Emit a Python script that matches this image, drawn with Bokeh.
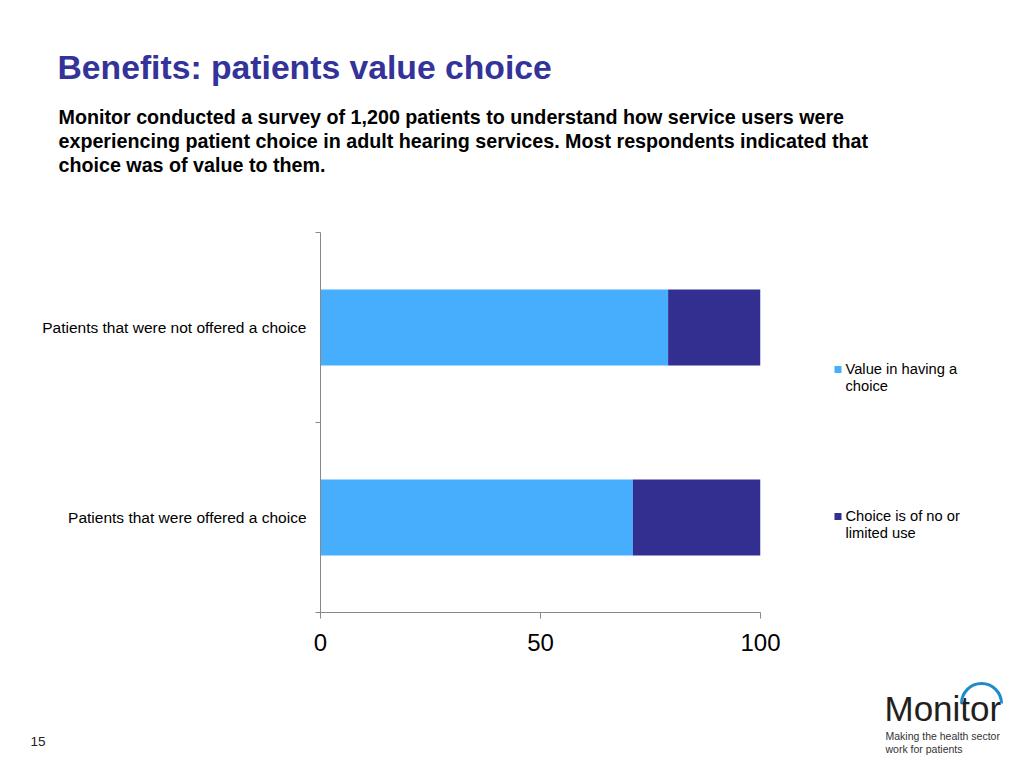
import math
from bokeh.plotting import figure
from bokeh.models import Range1d, FixedTicker
from bokeh.layouts import column, row
from bokeh.core.properties import value
from bokeh.embed import file_html
from bokeh.resources import INLINE

# ---- data ----
categories = ["Patients that were offered a choice", "Patients that were not offered a choice"]
value_choice = [71, 79]
no_use = [29, 21]
series_names = ["Value in having a\nchoice", "Choice is of no or\nlimited use"]
colors = ["#46AEFD", "#332F91"]
x_ticks = [0, 50, 100]

title_text = "Benefits: patients value choice"
subtitle_lines = [
    "Monitor conducted a survey of 1,200 patients to understand how service users were",
    "experiencing patient choice in adult hearing services. Most respondents indicated that",
    "choice was of value to them.",
]
page_number = "15"
logo_name = "Monitor"
logo_tagline = ["Making the health sector", "work for patients"]

FONT = "Liberation Sans"
PAGE_W = 1016


def canvas_fig(w, h, x0, y0, border_top=0, border_bottom=0):
    """A figure whose frame maps page pixels (y downward, negated)."""
    frame_h = h - border_top - border_bottom
    f = figure(width=w, height=h, output_backend="svg", toolbar_location=None,
               x_range=Range1d(x0, x0 + w),
               y_range=Range1d(-(y0 + border_top + frame_h), -(y0 + border_top)),
               x_axis_location=None, y_axis_location=None, min_border=0,
               min_border_top=border_top, min_border_bottom=border_bottom)
    f.outline_line_color = None
    f.background_fill_color = None
    f.border_fill_color = None
    f.xgrid.visible = False
    f.ygrid.visible = False
    return f


def txt(f, s, x, y, size, color="#000000", style="normal", align="left",
        baseline="middle", font=FONT):
    f.text(x=[x], y=[-y], text=[s], text_font=value(font), text_font_size=value(size),
           text_color=color, text_font_style=style, text_align=align,
           text_baseline=baseline)


# ---- top: title + subtitle ----
TOP_H = 200
top = canvas_fig(PAGE_W, TOP_H, 0, 0)
txt(top, title_text, 57, 66.5, "33.7px", color="#333399", style="bold")
for i, line in enumerate(subtitle_lines):
    txt(top, line, 58, 116.5 + 24 * i, "19.7px", style="bold")

# ---- chart ----
CH_Y0, CH_H, CH_W = 200, 470, 800
ypos = [i + 0.5 for i in range(len(categories))]
frame_top, frame_bottom = 232, 612
b_top = frame_top - CH_Y0
b_bot = CH_Y0 + CH_H - frame_bottom
p = figure(width=CH_W, height=CH_H, output_backend="svg", toolbar_location=None,
           x_range=Range1d(0, 100), y_range=Range1d(0, len(categories)),
           min_border_left=320, min_border_right=CH_W - 760,
           min_border_top=b_top, min_border_bottom=b_bot)
p.outline_line_color = None
p.xgrid.visible = False
p.ygrid.visible = False

right1 = list(value_choice)
right2 = [a + b for a, b in zip(value_choice, no_use)]
p.hbar(y=ypos, left=0, right=right1, height=0.4, fill_color=colors[0], line_color=None)
p.hbar(y=ypos, left=right1, right=right2, height=0.4, fill_color=colors[1], line_color=None)

xa = p.xaxis[0]
xa.ticker = FixedTicker(ticks=x_ticks, minor_ticks=[])
xa.axis_line_color = "#888888"
xa.major_tick_line_color = "#888888"
xa.major_tick_out = 6
xa.major_tick_in = 0
xa.minor_tick_line_color = None
xa.major_label_text_font = FONT
xa.major_label_text_font_size = "24px"
xa.major_label_text_color = "#000000"
xa.major_label_standoff = 15

ya = p.yaxis[0]
ya.ticker = FixedTicker(ticks=ypos, minor_ticks=list(range(len(categories) + 1)))
ya.major_label_overrides = {y: c for y, c in zip(ypos, categories)}
ya.axis_line_color = "#888888"
ya.major_tick_line_color = None
ya.minor_tick_line_color = "#888888"
ya.minor_tick_out = 5
ya.minor_tick_in = 0
ya.major_label_text_font = FONT
ya.major_label_text_font_size = "15.5px"
ya.major_label_text_color = "#000000"
ya.major_label_standoff = 8

# ---- legend panel (frame aligned with the chart frame) ----
leg = canvas_fig(PAGE_W - CH_W, CH_H, CH_W, CH_Y0, border_top=b_top, border_bottom=b_bot)
leg_y = [369, 516]
for name, c, ly in zip(series_names, colors, leg_y):
    leg.rect(x=[837.5], y=[-ly], width=7, height=7, fill_color=c, line_color=None)
    for j, part in enumerate(name.split("\n")):
        txt(leg, part, 845, ly - 0.5 + 17 * j, "14.7px")

# ---- bottom: page number + logo ----
BOT_Y0 = CH_Y0 + CH_H
bot = canvas_fig(PAGE_W, 761 - BOT_Y0, 0, BOT_Y0)
txt(bot, page_number, 30, 741, "13.5px", color="#222222")
txt(bot, logo_name, 884, 708, "35px", color="#231F20")
bot.arc(x=[981], y=[-703], radius=20, start_angle=0, end_angle=math.pi,
        line_color="#1E8BCB", line_width=3)
for j, line in enumerate(logo_tagline):
    txt(bot, line, 885, 735 + 13 * j, "10.5px", color="#333333")

layout = column(top, row(p, leg), bot)
open("out.html", "w").write(file_html(layout, INLINE))
